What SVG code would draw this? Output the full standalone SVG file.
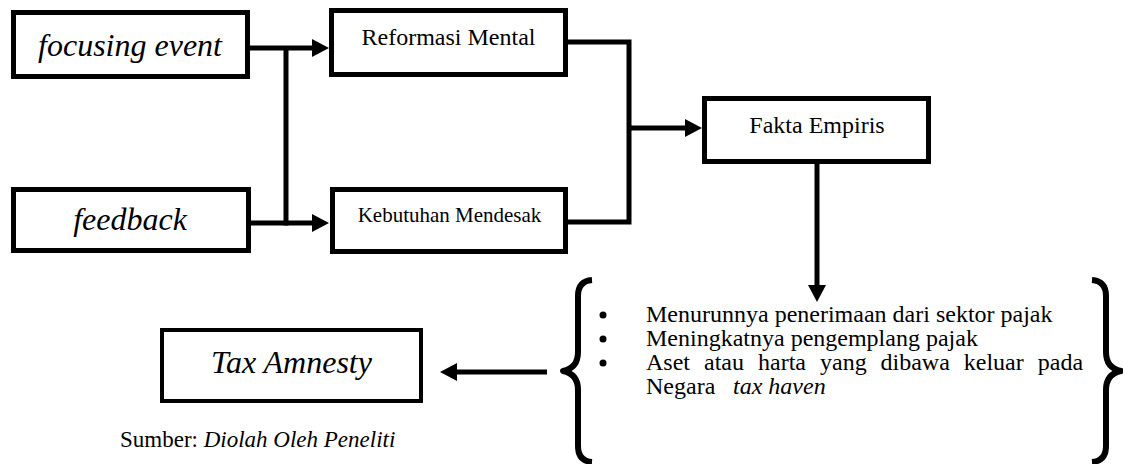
<svg xmlns="http://www.w3.org/2000/svg" width="1123" height="464" viewBox="0 0 1123 464">
<defs>
<style>
.box{fill:#fff;stroke:#000;stroke-width:5}
.thin{stroke-width:4}
.ln{fill:none;stroke:#000;stroke-width:5}
.br{fill:none;stroke:#000;stroke-width:6;stroke-linejoin:round;stroke-linecap:butt}
text{font-family:"Liberation Serif","Times New Roman",serif;fill:#000}
.it{font-style:italic}
.big{font-size:32px}
.mid{font-size:24px}
</style>
<marker id="ah" markerUnits="userSpaceOnUse" markerWidth="18" markerHeight="20" refX="0" refY="10" orient="auto">
<path d="M0,1 L17,10 L0,19 z" fill="#000"/>
</marker>
</defs>
<rect width="1123" height="464" fill="#fff"/>
<g id="connectors">
<path class="ln" d="M250,48 H312" marker-end="url(#ah)"/>
<path class="ln" d="M286,48 V225.5"/>
<path class="ln" d="M251,223 H312" marker-end="url(#ah)"/>
<path class="ln" d="M568,42 H629 V222 H568"/>
<path class="ln" d="M629,128 H685" marker-end="url(#ah)"/>
<path class="ln" d="M817,163 V285" marker-end="url(#ah)"/>
<path class="ln" d="M547,372 H457" marker-end="url(#ah)"/>
</g>
<g id="focusing-event">
<rect class="box" x="13.5" y="12.5" width="234" height="64"/>
<text class="it big" x="130" y="56" text-anchor="middle">focusing event</text>
</g>
<g id="feedback">
<rect class="box" x="13.5" y="189.5" width="235" height="61"/>
<text class="it big" x="130" y="230" text-anchor="middle">feedback</text>
</g>
<g id="reformasi-mental">
<rect class="box" x="331.5" y="10.5" width="234" height="64"/>
<text class="mid" x="448.5" y="45" text-anchor="middle">Reformasi Mental</text>
</g>
<g id="kebutuhan-mendesak">
<rect class="box" x="332.5" y="189.5" width="233" height="62"/>
<text x="449.5" y="222" font-size="21" text-anchor="middle">Kebutuhan Mendesak</text>
</g>
<g id="fakta-empiris">
<rect class="box" x="704.5" y="98.5" width="224" height="63"/>
<text class="mid" x="817" y="133" text-anchor="middle">Fakta Empiris</text>
</g>
<g id="fakta-list">
<path class="br" d="M592,280 Q578,281 578,296 V352 Q578,368 563,371 Q578,374 578,390 V446 Q578,461 592,462"/>
<path class="br" d="M1092,280 Q1106,281 1106,296 V352 Q1106,368 1121,371 Q1106,374 1106,390 V446 Q1106,461 1092,462"/>
<circle cx="603" cy="315" r="3.5"/>
<circle cx="603" cy="339" r="3.5"/>
<circle cx="603" cy="363" r="3.5"/>
<text class="mid" x="646" y="322">Menurunnya penerimaan dari sektor pajak</text>
<text class="mid" x="646" y="346">Meningkatnya pengemplang pajak</text>
<text class="mid" y="370"><tspan x="646">Aset</tspan><tspan x="704">atau</tspan><tspan x="758">harta</tspan><tspan x="820">yang</tspan><tspan x="880.5">dibawa</tspan><tspan x="963.8">keluar</tspan><tspan x="1037.8">pada</tspan></text>
<text class="mid" y="394"><tspan x="646">Negara</tspan><tspan class="it" x="733">tax haven</tspan></text>
</g>
<g id="tax-amnesty">
<rect class="box thin" x="162" y="330" width="259" height="71"/>
<text class="it big" x="291.5" y="373" text-anchor="middle">Tax Amnesty</text>
</g>
<g id="source">
<text x="120" y="447" font-size="23">Sumber: <tspan class="it">Diolah Oleh Peneliti</tspan></text>
</g>
</svg>
